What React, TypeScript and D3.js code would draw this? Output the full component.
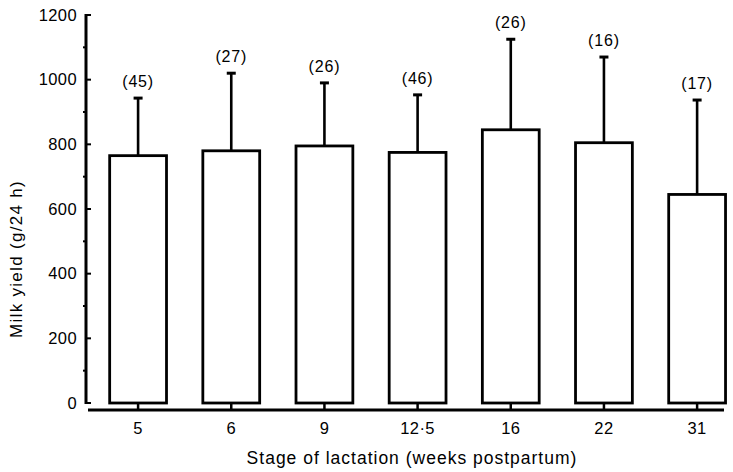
import React from 'react';
import * as d3 from 'd3';

// Milk yield by stage of lactation (mean + SD, n in brackets)
const stages = ['5', '6', '9', '12·5', '16', '22', '31'];
const meanYield = [765, 780, 795, 775, 845, 805, 645];
const sdYield = [178, 240, 195, 178, 280, 265, 292];
const counts = [45, 27, 26, 46, 26, 16, 17];
const yTicks = [0, 200, 400, 600, 800, 1000, 1200];
const yMinor = [100, 300, 500, 700, 900, 1100];

const W = 733;
const H = 472;
const FONT = '"Liberation Sans", Arial, Helvetica, sans-serif';

const App = () => {
  const y = d3.scaleLinear().domain([0, 1200]).range([403, 15]);
  const x = d3
    .scaleBand<string>()
    .domain(stages)
    .range([91.5, 743.7])
    .paddingInner(0.39)
    .paddingOuter(0.195);

  const axisX = 86;
  const baseY = 410;
  const bw = x.bandwidth();

  return (
    <svg
      width={W}
      height={H}
      style={{ position: 'absolute', left: 0, top: 0, background: '#fff' }}
      fontFamily={FONT}
    >
      {/* y axis */}
      <line x1={axisX} x2={axisX} y1={y(1200) - 1} y2={y(0) + 1} stroke="#000" strokeWidth={3} />
      {yTicks.map(t => (
        <g key={t}>
          <line x1={axisX} x2={axisX + 5} y1={y(t)} y2={y(t)} stroke="#000" strokeWidth={2} />
          <text x={77} y={y(t)} dy="0.35em" textAnchor="end" fontSize={16.5} letterSpacing={0.4} fill="#000">
            {t}
          </text>
        </g>
      ))}
      {yMinor.map(t => (
        <line key={t} x1={axisX - 3} x2={axisX} y1={y(t)} y2={y(t)} stroke="#000" strokeWidth={2} />
      ))}

      {/* x axis baseline */}
      <line x1={88} x2={724} y1={baseY} y2={baseY} stroke="#000" strokeWidth={3} />

      {/* bars with error bars */}
      {stages.map((s, i) => {
        const x0 = x(s) ?? 0;
        const cx = x0 + bw / 2;
        const top = y(meanYield[i]);
        const errTop = y(meanYield[i] + sdYield[i]);
        return (
          <g key={s}>
            <rect
              x={x0}
              y={top}
              width={bw}
              height={y(0) - top}
              fill="#fff"
              stroke="#000"
              strokeWidth={2.8}
            />
            <line x1={cx} x2={cx} y1={top} y2={errTop} stroke="#000" strokeWidth={2.6} />
            <line x1={cx - 4.5} x2={cx + 4.5} y1={errTop} y2={errTop} stroke="#000" strokeWidth={3} />
            <text x={cx} y={errTop - 11} textAnchor="middle" fontSize={16} letterSpacing={0.8} fill="#000">
              ({counts[i]})
            </text>
            <line x1={cx} x2={cx} y1={y(0)} y2={baseY} stroke="#000" strokeWidth={2.5} />
            <text x={cx} y={434} textAnchor="middle" fontSize={16.5} letterSpacing={0.4} fill="#000">
              {s}
            </text>
          </g>
        );
      })}

      {/* axis titles */}
      <text x={412} y={464} textAnchor="middle" fontSize={17.5} letterSpacing={1} fill="#000">
        Stage of lactation (weeks postpartum)
      </text>
      <text
        transform="translate(22,259) rotate(-90)"
        textAnchor="middle"
        fontSize={17}
        letterSpacing={1.3}
        fill="#000"
      >
        Milk yield (g/24 h)
      </text>
    </svg>
  );
};

export default App;
